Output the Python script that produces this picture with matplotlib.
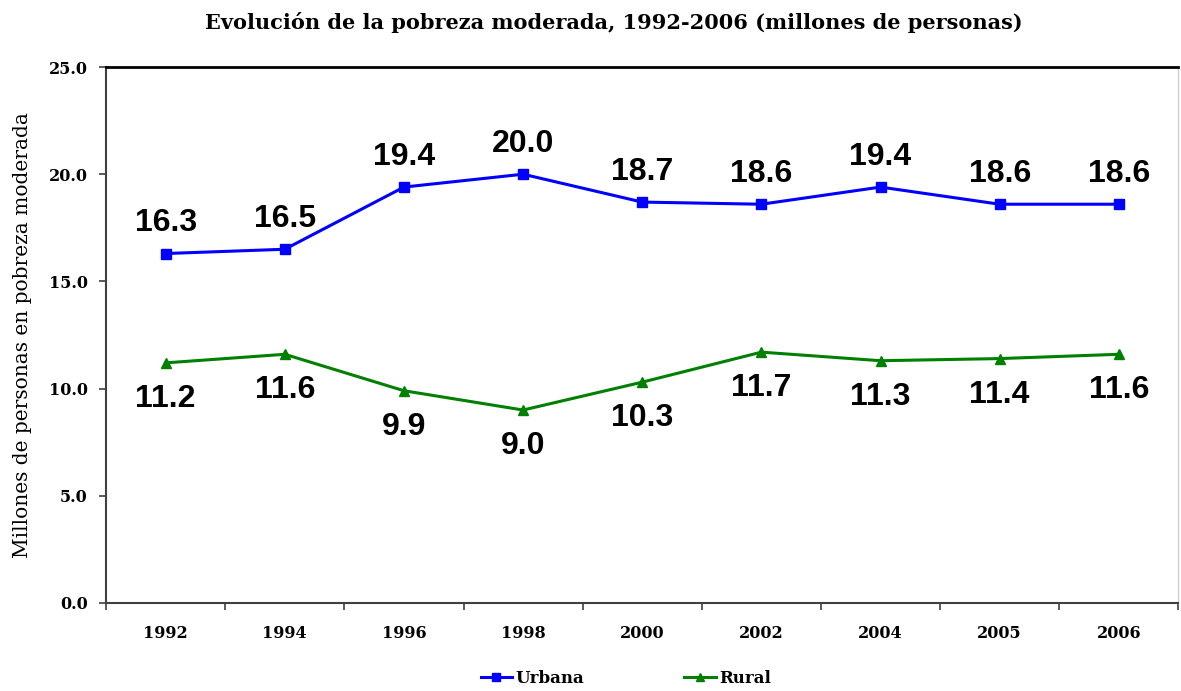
import matplotlib
matplotlib.use("agg")
import matplotlib.pyplot as plt
import numpy as np

# datos del grafico (millones de personas)
years = ["1992", "1994", "1996", "1998", "2000", "2002", "2004", "2005", "2006"]
urbana = [16.3, 16.5, 19.4, 20.0, 18.7, 18.6, 19.4, 18.6, 18.6]
rural = [11.2, 11.6, 9.9, 9.0, 10.3, 11.7, 11.3, 11.4, 11.6]
yticks = [0, 5, 10, 15, 20, 25]

serif = "DejaVu Serif"
sans = "Liberation Sans"

fig = plt.figure(figsize=(11.81, 6.91), dpi=100)
ax = fig.add_axes([0.0898, 0.1274, 0.908, 0.7756])

x = np.arange(len(years))
ax.plot(x, urbana, color="#0000FF", lw=2.2, marker="s", ms=7, label="Urbana")
ax.plot(x, rural, color="#008000", lw=2.2, marker="^", ms=7, label="Rural")

# etiquetas de datos
for xi, v in zip(x, urbana):
    ax.annotate(f"{v:.1f}", (xi, v), xytext=(0, 22), textcoords="offset points",
                ha="center", va="center", fontsize=23, fontweight="bold", family=sans)
for xi, v in zip(x, rural):
    ax.annotate(f"{v:.1f}", (xi, v), xytext=(0, -26), textcoords="offset points",
                ha="center", va="center", fontsize=23, fontweight="bold", family=sans)

ax.set_xlim(-0.5, len(years) - 0.5)
ax.set_ylim(0, 25)
ax.set_yticks(yticks)
ax.set_yticklabels([f"{t:.1f}" for t in yticks], fontsize=11.5, fontweight="bold", family=serif)
ax.set_xticks(x)
ax.set_xticklabels(years, fontsize=11.5, fontweight="bold", family=serif)
ax.set_xticks(np.arange(len(years) + 1) - 0.5, minor=True)
ax.tick_params(axis="x", which="major", length=0, pad=16)
ax.tick_params(axis="x", which="minor", length=5, width=1.2, color="#404040")
ax.tick_params(axis="y", length=5, width=1.2, color="#404040", pad=8)

for s in ["left", "bottom"]:
    ax.spines[s].set_color("#404040")
    ax.spines[s].set_linewidth(1.5)
ax.spines["top"].set_color("black")
ax.spines["top"].set_linewidth(2)
ax.spines["right"].set_color("#d0d0d0")
ax.spines["right"].set_linewidth(1)

ax.set_ylabel("Millones de personas en pobreza moderada", fontsize=14.5, family=serif, labelpad=12)
fig.text(0.52, 0.968, "Evolución de la pobreza moderada, 1992-2006 (millones de personas)",
         ha="center", va="center", fontsize=15, fontweight="bold", family=serif)

leg = fig.legend(loc="center", bbox_to_anchor=(0.53, 0.018), ncol=2, frameon=False,
                 prop={"family": serif, "weight": "bold", "size": 12},
                 columnspacing=6, handlelength=1.9, handletextpad=0.2)
for h in leg.legend_handles:
    h.set_markersize(6)

fig.savefig("out.png", dpi=100)
